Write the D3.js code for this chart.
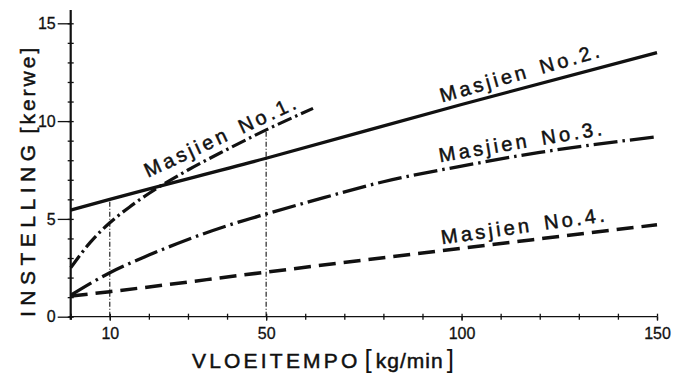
<!DOCTYPE html>
<html>
<head>
<meta charset="utf-8">
<script src="https://cdn.jsdelivr.net/npm/d3@7"></script>
<style>
  body { margin: 0; background: #fff; }
  svg { font-family: "Liberation Sans", Arial, sans-serif; }
</style>
</head>
<body>
<div id="chart"></div>
<script>
// values (x = kg/min, y = kerwe)
var m1X = [0, 5, 10, 15, 20, 30, 40, 50, 62];
var m1Y = [2.5, 3.8, 4.8, 5.6, 6.3, 7.5, 8.55, 9.55, 10.65];
var m2X = [0, 10, 50, 100, 150];
var m2Y = [5.45, 6.0, 8.1, 10.85, 13.5];
var m3X = [0, 10, 20, 30, 40, 50, 65, 80, 100, 120, 150];
var m3Y = [1.1, 2.25, 3.15, 3.95, 4.65, 5.25, 6.1, 6.9, 7.7, 8.4, 9.2];
var m4X = [0, 10, 50, 100, 150];
var m4Y = [1.05, 1.28, 2.28, 3.5, 4.7];

var names = ["Masjien No.1.", "Masjien No.2.", "Masjien No.3.", "Masjien No.4."];
var labelX = [19.8, 95, 94.5, 95];
var labelY = [7.1, 10.95, 7.9, 3.7];

var guideX = [10, 50];
var guideTop = [6.0, 9.55];

var yMajor = [0, 5, 10, 15];
var xMajor = [10, 50, 100, 150];

var W = 691, H = 381;
var svg = d3.select("#chart").append("svg").attr("width", W).attr("height", H);

var x = d3.scaleLinear().domain([0, 150]).range([70.7, 657]);
var y = d3.scaleLinear().domain([0, 15]).range([316.7, 23.3]);

// axes
var gy = svg.append("g").attr("transform", "translate(" + x(0) + ",0)");
gy.append("line").attr("x1", 0).attr("x2", 0).attr("y1", y(0) + 3).attr("y2", y(15.68))
    .attr("stroke", "#111").attr("stroke-width", 2.2);
gy.append("g").call(d3.axisLeft(y).tickValues(d3.range(0, 16)).tickSize(3).tickFormat(""))
    .call(g => g.select(".domain").remove());
gy.append("g").call(d3.axisRight(y).tickValues(d3.range(0, 16)).tickSize(3).tickFormat(""))
    .call(g => g.select(".domain").remove());
gy.append("g").call(d3.axisLeft(y).tickValues(yMajor).tickSize(13).tickPadding(2))
    .call(g => g.select(".domain").remove())
    .call(g => g.selectAll("text").attr("font-size", 16).attr("fill", "#111")
      .attr("stroke", "#111").attr("stroke-width", 0.3).attr("font-family", "Liberation Sans"));
gy.selectAll("line").attr("stroke", "#111").attr("stroke-width", 1.3);
gy.select("line").attr("stroke-width", 2.2);

var gx = svg.append("g").attr("transform", "translate(0," + y(0) + ")");
gx.append("line").attr("x1", x(0) - 2).attr("x2", x(150)).attr("y1", 0).attr("y2", 0)
    .attr("stroke", "#111").attr("stroke-width", 2.2);
gx.append("g").call(d3.axisBottom(x).tickValues(d3.range(0, 151, 10)).tickSize(3).tickFormat(""))
    .call(g => g.select(".domain").remove());
gx.append("g").call(d3.axisTop(x).tickValues(d3.range(0, 151, 10)).tickSize(3).tickFormat(""))
    .call(g => g.select(".domain").remove());
gx.append("g").call(d3.axisBottom(x).tickValues(xMajor).tickSize(4).tickPadding(7))
    .call(g => g.select(".domain").remove())
    .call(g => g.selectAll("text").attr("font-size", 16).attr("fill", "#111")
      .attr("stroke", "#111").attr("stroke-width", 0.3).attr("font-family", "Liberation Sans"));
gx.selectAll("g line").attr("stroke", "#111").attr("stroke-width", 1.3);

// guide lines
svg.selectAll(".guide").data(guideX).enter().append("line")
    .attr("class", "guide")
    .attr("x1", d => x(d)).attr("x2", d => x(d))
    .attr("y1", y(0)).attr("y2", (d, i) => y(guideTop[i]))
    .attr("stroke", "#111").attr("stroke-width", 1.1)
    .attr("stroke-dasharray", "5,2,1,2");

// curves
var line = d3.line().x(d => x(d[0])).y(d => y(d[1])).curve(d3.curveMonotoneX);
var series = [
  { xs: m1X, ys: m1Y, dash: "15,4,2.5,4", w: 3.2 },
  { xs: m2X, ys: m2Y, dash: null, w: 3.3 },
  { xs: m3X, ys: m3Y, dash: "24,5,2.5,5", w: 3.3 },
  { xs: m4X, ys: m4Y, dash: "17,8", w: 3.5 }
];
series.forEach(function(s) {
  svg.append("path")
    .datum(d3.zip(s.xs, s.ys))
    .attr("d", line)
    .attr("fill", "none")
    .attr("stroke", "#111")
    .attr("stroke-width", s.w)
    .attr("stroke-dasharray", s.dash);
});

// curve labels
var angles = [-25, -16, -9.5, -8];
svg.selectAll(".lbl").data(names).enter().append("text")
    .attr("class", "lbl")
    .attr("transform", (d, i) => "translate(" + x(labelX[i]) + "," + y(labelY[i]) + ") rotate(" + angles[i] + ")")
    .attr("font-size", 20)
    .attr("letter-spacing", 3.3)
    .attr("word-spacing", 3)
    .attr("fill", "#111")
    .attr("stroke", "#111").attr("stroke-width", 0.5)
    .text(d => d);

// axis titles
var yt = svg.append("text")
    .attr("transform", "translate(35,317) rotate(-90)")
    .attr("font-size", 21).attr("fill", "#111")
    .attr("stroke", "#111").attr("stroke-width", 0.5);
yt.append("tspan").attr("letter-spacing", 5.5).text("INSTELLING");
yt.append("tspan").attr("letter-spacing", 3).attr("dx", 6).text("[kerwe]");

var xt = svg.append("text")
    .attr("transform", "translate(192,368)")
    .attr("font-size", 21).attr("fill", "#111")
    .attr("stroke", "#111").attr("stroke-width", 0.5);
xt.append("tspan").attr("letter-spacing", 3.2).text("VLOEITEMPO");
xt.append("tspan").attr("dx", 4).attr("font-size", 26).attr("stroke-width", 0).text("[");
xt.append("tspan").attr("dx", 4).attr("letter-spacing", 1).text("kg/min");
xt.append("tspan").attr("dx", 3).attr("font-size", 26).attr("stroke-width", 0).text("]");
</script>
</body>
</html>
